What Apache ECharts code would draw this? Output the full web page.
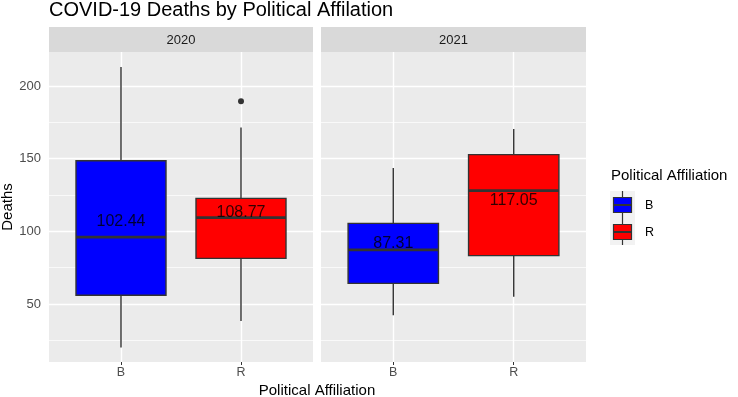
<!DOCTYPE html>
<html>
<head>
<meta charset="utf-8">
<script src="https://cdn.jsdelivr.net/npm/echarts@6/dist/echarts.min.js"></script>
<style>
html, body { margin: 0; padding: 0; background: #fff; }
#chart { width: 738px; height: 397px; }
</style>
</head>
<body>
<div id="chart"></div>
<script>
// data
var years = ['2020', '2021'];
var parties = ['B', 'R'];
var partyColors = ['#0000ff', '#ff0000'];
// [min, Q1, median, Q3, max] per party
var box2020 = [[20, 56, 96, 148.6, 213], [38.3, 81.4, 109.4, 122.7, 171.5]];
var box2021 = [[42.2, 64.2, 87.2, 105.5, 143.6], [55, 83.3, 128, 152.8, 170.4]];
var means2020 = [102.44, 108.77];
var means2021 = [87.31, 117.05];
var outliers2020 = [[1, 189.5]];   // [party index, value]
var outliers2021 = [];
var majorTicks = [50, 100, 150, 200];
var minorTicks = [25, 75, 125, 175];
var yMin = 10.1, yMax = 223.4;

var font = 'Liberation Sans, Arial, sans-serif';
var dark = '#333333';
var partyIdx = parties.map(function (p, i) { return i; });

var myChart = echarts.init(document.getElementById('chart'));

function renderBox(params, api) {
    var x = api.value(0);
    var lo = api.coord([x, api.value(1)]);
    var q1 = api.coord([x, api.value(2)]);
    var md = api.coord([x, api.value(3)]);
    var q3 = api.coord([x, api.value(4)]);
    var hi = api.coord([x, api.value(5)]);
    var w = api.size([0.75, 0])[0];
    var ln = { stroke: dark, lineWidth: 1.4 };
    return {
        type: 'group',
        children: [
            { type: 'line', shape: { x1: lo[0], y1: lo[1], x2: q1[0], y2: q1[1] }, style: ln },
            { type: 'line', shape: { x1: q3[0], y1: q3[1], x2: hi[0], y2: hi[1] }, style: ln },
            { type: 'rect', shape: { x: q3[0] - w / 2, y: q3[1], width: w, height: q1[1] - q3[1] },
              style: { fill: api.visual('color'), stroke: dark, lineWidth: 1.4 } },
            { type: 'line', shape: { x1: md[0] - w / 2, y1: md[1], x2: md[0] + w / 2, y2: md[1] },
              style: { stroke: dark, lineWidth: 2.8 } }
        ]
    };
}

function gridLines() {
    var d = [];
    minorTicks.forEach(function (v) { d.push({ yAxis: v, lineStyle: { width: 0.7 } }); });
    majorTicks.forEach(function (v) { d.push({ yAxis: v, lineStyle: { width: 1.4 } }); });
    partyIdx.forEach(function (i) { d.push({ xAxis: i, lineStyle: { width: 1.4 } }); });
    return d;
}

var boxes = [box2020, box2021];
var means = [means2020, means2021];
var outliers = [outliers2020, outliers2021];
var gridPos = [{ left: 49, width: 264 }, { left: 321, width: 265 }];

var grids = [], xAxes = [], yAxes = [], series = [], graphics = [];

years.forEach(function (yr, k) {
    grids.push({
        left: gridPos[k].left, width: gridPos[k].width, top: 52, bottom: 35,
        show: true, backgroundColor: '#ebebeb', borderWidth: 0
    });
    xAxes.push({
        type: 'value', gridIndex: k, min: -0.6, max: 1.6,
        axisLine: { show: false },
        axisTick: { show: true, length: 3, customValues: partyIdx, lineStyle: { color: dark } },
        axisLabel: {
            customValues: partyIdx, color: '#4d4d4d', fontSize: 12.5, margin: 4, fontFamily: font,
            formatter: function (v) { return parties[Math.round(v)]; }
        },
        splitLine: { show: false }
    });
    yAxes.push({
        type: 'value', gridIndex: k, min: yMin, max: yMax,
        axisLine: { show: false },
        splitLine: { show: false },
        axisTick: { show: k === 0, length: 3, customValues: majorTicks, lineStyle: { color: dark } },
        axisLabel: { show: k === 0, customValues: majorTicks, color: '#4d4d4d', fontSize: 13, margin: 8, fontFamily: font }
    });
    series.push({
        type: 'line', xAxisIndex: k, yAxisIndex: k, data: [], z: 1, silent: true,
        markLine: {
            z: 1, silent: true, symbol: 'none', animation: false,
            label: { show: false },
            lineStyle: { color: '#ffffff', type: 'solid' },
            data: gridLines()
        }
    });
    series.push({
        type: 'custom', xAxisIndex: k, yAxisIndex: k, z: 3,
        renderItem: renderBox,
        encode: { x: 0, y: [1, 2, 3, 4, 5] },
        data: boxes[k].map(function (b, i) {
            return { value: [i].concat(b), itemStyle: { color: partyColors[i] } };
        })
    });
    series.push({
        type: 'scatter', xAxisIndex: k, yAxisIndex: k, z: 4,
        symbolSize: 6, itemStyle: { color: dark, opacity: 1 },
        data: outliers[k]
    });
    series.push({
        type: 'scatter', xAxisIndex: k, yAxisIndex: k, z: 5,
        symbolSize: 1, itemStyle: { color: 'transparent' },
        label: {
            show: true, position: 'top', distance: -2.5,
            fontSize: 16, color: '#000', fontFamily: font,
            formatter: function (p) { return p.value[1].toFixed(2); }
        },
        data: means[k].map(function (m, i) { return [i, m]; })
    });
    // facet strip
    graphics.push({
        type: 'rect', left: gridPos[k].left, top: 27,
        shape: { width: gridPos[k].width, height: 25 },
        style: { fill: '#d9d9d9' }
    });
    graphics.push({
        type: 'text', x: gridPos[k].left + gridPos[k].width / 2, y: 40,
        style: { text: yr, fill: '#1a1a1a', font: '13px ' + font, align: 'center', verticalAlign: 'middle' }
    });
});

// legend
graphics.push({
    type: 'text', left: 611, top: 168,
    style: { text: 'Political Affiliation', fill: '#000', font: '15px ' + font }
});
parties.forEach(function (p, i) {
    var cy = 205 + i * 27;
    graphics.push({ type: 'rect', left: 610, top: cy - 14, shape: { width: 25, height: 27 }, style: { fill: '#f2f2f2' } });
    graphics.push({ type: 'line', shape: { x1: 622.5, y1: cy - 14, x2: 622.5, y2: cy + 13 }, style: { stroke: dark, lineWidth: 1.2 } });
    graphics.push({ type: 'rect', shape: { x: 613.5, y: cy - 7.5, width: 18, height: 15 }, style: { fill: partyColors[i], stroke: dark, lineWidth: 1.2 } });
    graphics.push({ type: 'line', shape: { x1: 613.5, y1: cy, x2: 631.5, y2: cy }, style: { stroke: dark, lineWidth: 2 } });
    graphics.push({
        type: 'text', x: 645, y: cy + 1,
        style: { text: p, fill: '#000', font: '12.5px ' + font, verticalAlign: 'middle' }
    });
});

// titles
graphics.push({
    type: 'text', x: 49, y: 0,
    style: { text: 'COVID-19 Deaths by Political Affilation', fill: '#000', font: '20px ' + font, verticalAlign: 'top' }
});
graphics.push({
    type: 'text', x: 317, y: 391,
    style: { text: 'Political Affiliation', fill: '#000', font: '15px ' + font, align: 'center', verticalAlign: 'middle' }
});
graphics.push({
    type: 'text', x: 8, y: 207, rotation: Math.PI / 2,
    style: { text: 'Deaths', fill: '#000', font: '15px ' + font, align: 'center', verticalAlign: 'middle' }
});

var option = {
    animation: false,
    grid: grids,
    xAxis: xAxes,
    yAxis: yAxes,
    series: series,
    graphic: graphics
};

myChart.setOption(option);
</script>
</body>
</html>
